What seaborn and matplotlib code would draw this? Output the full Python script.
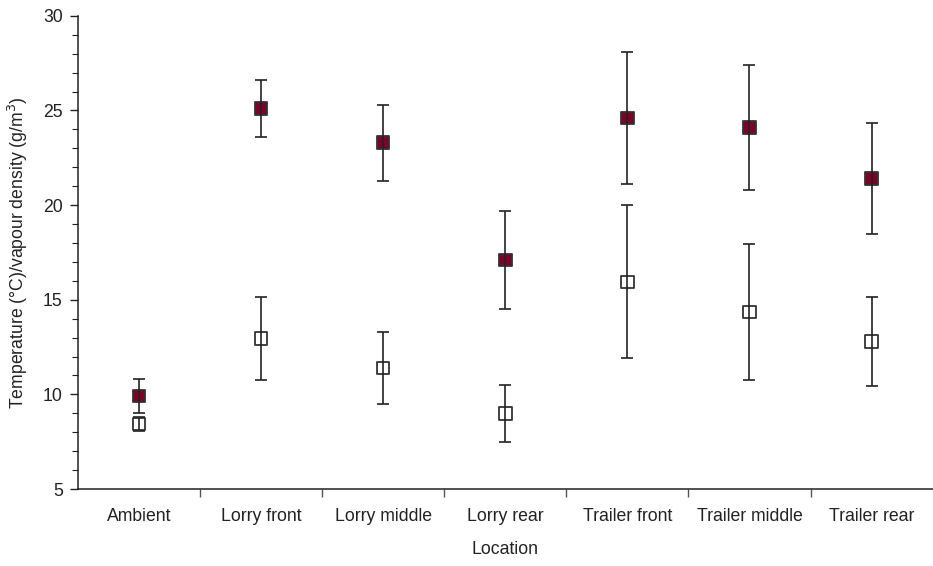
import matplotlib
matplotlib.use('Agg')
import matplotlib.pyplot as plt
from matplotlib.ticker import MultipleLocator, FixedLocator
import pandas as pd
import seaborn as sns

locations = ['Ambient', 'Lorry front', 'Lorry middle', 'Lorry rear',
             'Trailer front', 'Trailer middle', 'Trailer rear']
temperature = [9.9, 25.1, 23.3, 17.1, 24.6, 24.1, 21.4]
temperature_err = [0.9, 1.5, 2.0, 2.6, 3.5, 3.3, 2.95]
vapour = [8.45, 12.95, 11.4, 9.0, 15.95, 14.35, 12.8]
vapour_err = [0.38, 2.2, 1.9, 1.5, 4.05, 3.6, 2.35]

doc = pd.DataFrame({
    'location': locations * 2,
    'value': temperature + vapour,
    'measure': ['Temperature'] * len(locations) + ['Vapour density'] * len(locations),
})

sns.set_style('white')
plt.rcParams['font.family'] = ['Liberation Sans', 'DejaVu Sans']
fs = 12.7

fig = plt.figure(figsize=(9.33, 5.66), dpi=100)
ax = fig.add_axes([0.0836, 0.136, 0.916, 0.836])

sns.scatterplot(data=doc, x='location', y='value', hue='measure',
                palette={'Temperature': '#7d0026', 'Vapour density': 'white'},
                marker='s', s=80, edgecolor='#333333', linewidth=1.3,
                legend=False, zorder=2, ax=ax)

ax.errorbar(locations, temperature, yerr=temperature_err, fmt='none',
            ecolor='#222222', elinewidth=1.2, capsize=4.5, capthick=1.2, zorder=3)
ax.errorbar(locations, vapour, yerr=vapour_err, fmt='none',
            ecolor='#222222', elinewidth=1.2, capsize=4.5, capthick=1.2, zorder=3)

ax.set_xlim(-0.5, len(locations) - 0.5)
ax.set_ylim(5, 30)
ax.yaxis.set_major_locator(MultipleLocator(5))
ax.yaxis.set_minor_locator(MultipleLocator(1))
ax.xaxis.set_minor_locator(FixedLocator([i + 0.5 for i in range(len(locations) - 1)]))

ax.tick_params(axis='y', which='major', left=True, length=6, width=1, color='#222222',
               labelsize=fs, labelcolor='#222222', pad=5)
ax.tick_params(axis='y', which='minor', left=True, length=4, width=0.8, color='#222222')
ax.tick_params(axis='x', which='major', bottom=False, length=0, labelsize=fs,
               labelcolor='#222222', pad=14)
ax.tick_params(axis='x', which='minor', bottom=True, length=6, width=1, color='#555555')

sns.despine(ax=ax)
for side in ['left', 'bottom']:
    ax.spines[side].set_color('#222222')
    ax.spines[side].set_linewidth(1.1)

ax.set_xlabel('Location', fontsize=fs, color='#222222', labelpad=11)
ax.set_ylabel('Temperature (°C)/vapour density (g/m$^3$)', fontsize=fs,
              color='#222222', labelpad=9)

fig.savefig('out.png', dpi=100)
